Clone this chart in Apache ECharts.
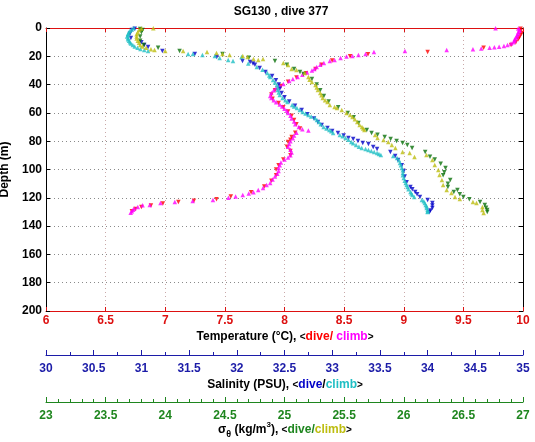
<!DOCTYPE html>
<html>
<head>
<meta charset="utf-8">
<script src="https://cdn.jsdelivr.net/npm/echarts@6/dist/echarts.min.js"></script>
<style>
html,body{margin:0;padding:0;background:#fff;}
#chart{width:535px;height:442px;}
</style>
</head>
<body>
<div id="chart"></div>
<script>
// ---- Data: [depth (m), value] pairs ----
const tempDive = [[0.5,9.98],[2,9.98],[3.5,9.99],[5,9.98],[6.5,9.97],[8,9.96],[10,9.94],[12,9.90],[14,9.67],[17,9.20],[18.5,8.70],[20,8.55],[23,8.40],[26,8.31],[29,8.26],[32,8.18],[35,8.10],[38,8.03],[41,7.97],[44,7.92],[47,7.89],[50,7.90],[53,7.95],[56,7.99],[59,8.03],[62,8.06],[65,8.08],[68,8.10],[71,8.13],[74,8.09],[77,8.06],[79,8.05],[80.6,8.03],[84,8.02],[87,8.05],[90,8.05],[93,7.99],[97,7.95],[100,7.93],[104,7.93],[108,7.89],[112,7.83],[116,7.72],[119,7.55],[121,7.43],[122,7.24],[123,7.11],[124,6.98],[125.5,6.88],[126.5,6.80],[128,6.75],[129.5,6.72]];
const tempClimb = [[0.2,9.77],[0.3,9.96],[1,9.97],[2,9.97],[3,9.96],[4,9.96],[5,9.95],[6,9.95],[7,9.94],[8,9.93],[9,9.93],[10,9.92],[11,9.90],[12,9.87],[12.7,9.84],[13.2,9.80],[13.6,9.76],[14,9.72],[14.5,9.65],[15,9.58],[15.5,9.36],[16.3,9.01],[17,8.75],[18.4,8.68],[19,8.62],[19.8,8.57],[20.2,8.52],[21.2,8.47],[22.6,8.42],[23.3,8.38],[24.7,8.33],[26,8.30],[27.6,8.27],[29,8.25],[30,8.23],[31.5,8.19],[33,8.15],[34.6,8.11],[36,8.07],[37.5,8.04],[39.6,7.99],[41,7.96],[42.5,7.93],[44,7.91],[46,7.89],[48,7.88],[49.5,7.89],[51,7.91],[52.5,7.93],[54,7.96],[55.5,7.98],[57,8.00],[58.5,8.02],[60,8.03],[62,8.05],[64,8.06],[66,8.08],[68,8.09],[70,8.12],[71.5,8.15],[72.5,8.20],[74,8.10],[76,8.08],[78,8.07],[80,8.05],[82,8.04],[84,8.03],[86,8.05],[88,8.06],[90,8.05],[91.5,8.03],[93,8.00],[95,7.97],[97,7.96],[99,7.95],[101,7.95],[103,7.94],[105,7.92],[107,7.90],[109.5,7.88],[111,7.85],[113,7.82],[114.5,7.78],[116,7.74],[117,7.70],[118,7.65],[119,7.59],[120,7.53],[121.6,7.40],[122.3,7.23],[123,7.08],[123.7,6.96],[125,6.87],[125.2,6.81],[126.5,6.77],[127.5,6.74],[128.5,6.73],[129.5,6.72],[130.5,6.71]];

const salDive = [[0.5,30.93],[1.5,30.90],[4,30.88],[7,30.89],[10,31.00],[12,31.03],[13.4,31.07],[16.3,31.22],[18.4,31.56],[20.5,31.79],[23.3,32.06],[24,32.14],[25,32.17],[26,32.19],[28.3,32.24],[31.1,32.30],[34,32.37],[37,32.41],[40,32.44],[43,32.45],[46,32.47],[49,32.50],[52,32.55],[55,32.61],[58,32.68],[61,32.74],[64,32.81],[66.5,32.85],[68.6,32.89],[70.7,32.95],[72.8,33.00],[74.2,33.06],[76,33.12],[77.7,33.17],[78.4,33.22],[79.9,33.27],[81.3,33.32],[82,33.38],[84.1,33.43],[85.5,33.47],[87.6,33.61],[90.5,33.66],[93.3,33.69],[97,33.73],[101,33.75],[105,33.76],[109,33.78],[112.4,33.82],[114,33.84],[115.9,33.87],[117.5,33.89],[119.4,33.92],[121.6,34.00],[123.7,34.05],[125.5,34.05],[127.2,34.05],[129,34.03],[130,34.02]];
const salClimb = [[0,30.92],[1,30.90],[2,30.88],[3,30.87],[4,30.86],[5,30.86],[6,30.85],[7,30.86],[8,30.86],[9,30.87],[10,30.88],[11,30.89],[12,30.91],[13,30.93],[14,30.96],[14.8,30.99],[15.5,31.03],[16.3,31.07],[18.4,31.49],[18.4,31.54],[19,31.64],[19.8,31.77],[21.2,31.82],[22.6,31.91],[23.3,31.96],[20.5,32.05],[25,32.12],[27.6,32.21],[29.5,32.27],[31.8,32.32],[33.5,32.34],[34.6,32.35],[36.7,32.38],[38.5,32.40],[40.3,32.42],[42,32.43],[43.8,32.43],[45.5,32.44],[47.3,32.45],[49.5,32.48],[51,32.51],[52.3,32.53],[54.4,32.58],[55.5,32.60],[56.5,32.63],[58,32.66],[59.4,32.69],[60.5,32.72],[61.5,32.75],[62.5,32.78],[63.6,32.82],[65,32.84],[66.4,32.86],[68,32.88],[70,32.91],[71,32.94],[72,32.97],[73,32.99],[74.2,33.01],[75.6,33.08],[76.5,33.11],[77.7,33.14],[79,33.17],[80.6,33.20],[81.5,33.22],[82.7,33.25],[84,33.28],[84.8,33.31],[85.6,33.35],[86.2,33.38],[87,33.41],[87.6,33.44],[88.3,33.47],[89,33.49],[89.8,33.51],[90.5,33.64],[91.9,33.68],[93.5,33.70],[95.4,33.71],[97,33.72],[98.9,33.73],[100.5,33.74],[102.5,33.74],[104,33.74],[106,33.75],[108,33.76],[109.5,33.77],[111,33.78],[112.4,33.79],[114,33.80],[115.9,33.82],[117,33.83],[118,33.84],[119.4,33.86],[121.6,33.94],[122.5,33.96],[123.7,33.97],[125,33.98],[126,33.99],[127.2,33.99],[128.5,34.00],[129.5,34.00],[130,34.00]];

const densDive = [[0.7,23.79],[1.4,23.81],[3,23.80],[6,23.79],[9,23.79],[12,23.82],[14,23.94],[16.3,24.12],[18.4,24.48],[21,24.70],[23.3,24.92],[26,25.02],[29,25.08],[31.1,25.13],[32.5,25.16],[36,25.23],[40,25.27],[44,25.30],[48,25.33],[52,25.37],[56,25.45],[60,25.53],[63,25.58],[67.1,25.62],[72,25.69],[74.2,25.73],[75.5,25.78],[77,25.84],[78.5,25.89],[79.9,25.94],[81.3,25.99],[82.7,26.03],[84.8,26.07],[87.6,26.18],[91,26.22],[93,26.26],[96,26.31],[98.9,26.35],[102,26.34],[104,26.33],[107.4,26.39],[110,26.37],[112.4,26.37],[114.5,26.45],[115.9,26.42],[117.5,26.47],[119.4,26.50],[121,26.55],[123,26.64],[125,26.68],[127,26.69],[128.6,26.70],[130,26.70]];
const densClimb = [[0.2,23.90],[0.3,23.80],[1.5,23.78],[3,23.77],[4.5,23.76],[6,23.76],[7.5,23.76],[9,23.77],[10.5,23.78],[12,23.79],[13,23.81],[14,23.84],[15,23.88],[15.5,23.91],[16.3,24.00],[16.3,24.15],[17,24.35],[17.7,24.43],[18.4,24.48],[19,24.54],[19.8,24.65],[20.5,24.69],[21.9,24.74],[22.6,24.78],[21.9,24.82],[24.7,24.99],[26.1,25.03],[29,25.06],[29.7,25.10],[31.8,25.17],[34.6,25.20],[36.5,25.21],[38.2,25.23],[40.3,25.26],[42,25.27],[43.8,25.28],[45.9,25.30],[47.5,25.31],[49.5,25.32],[51,25.34],[52.3,25.36],[54.4,25.38],[55.8,25.42],[56.5,25.44],[58,25.48],[60,25.52],[61.5,25.55],[62.9,25.57],[64.5,25.59],[66.4,25.61],[68.6,25.63],[70,25.65],[71,25.66],[72,25.67],[75.6,25.76],[77.7,25.78],[79.2,25.83],[80.6,25.87],[82.7,25.90],[84.8,25.93],[87.6,25.99],[88.3,26.05],[91.2,26.09],[89.8,26.19],[93.3,26.24],[96.8,26.26],[100.4,26.29],[103.9,26.30],[107.4,26.32],[111,26.33],[114.5,26.36],[116.6,26.40],[119.4,26.43],[120.8,26.47],[123,26.58],[123.7,26.61],[126.5,26.66],[128.6,26.66],[130.7,26.67]];

// Axis ranges / tick steps
const depthRange = [0, 200], depthStep = 20;
const tempRange = [6, 10], salRange = [30, 35], densRange = [23, 27], xStep = 0.5;

const FONT = '"Liberation Sans", Arial, Helvetica, sans-serif';
const C = {
  tAxis: '#dd1111', red: '#ff0000', mag: '#ff00ff',
  sAxis: '#1c1ca8', blue: '#0000c8', cyan: '#1fbfc4',
  dAxis: '#1f861f', green: '#0a700a', olive: '#bdbd10'
};

const chart = echarts.init(document.getElementById('chart'), null, {renderer: 'canvas'});
const toXY = arr => arr.map(p => [p[1], p[0]]);

function sc(name, data, xi, color, down) {
  return {
    name, type: 'scatter', xAxisIndex: xi, yAxisIndex: 0,
    data: toXY(data), symbol: 'triangle', symbolSize: 4.5,
    symbolRotate: down ? 180 : 0,
    itemStyle: {color}, emphasis: {disabled: true}, silent: true, animation: false
  };
}
const lab = (color) => ({color, fontWeight: 'bold', fontSize: 12, fontFamily: FONT});

chart.setOption({
  animation: false,
  backgroundColor: '#fff',
  grid: {left: 46, right: 12, top: 28, bottom: 131, containLabel: false, outerBoundsMode: 'none'},
  xAxis: [
    {type: 'value', position: 'bottom', min: tempRange[0], max: tempRange[1], interval: xStep,
     axisLine: {show: true, onZero: false, lineStyle: {color: C.tAxis, width: 1}},
     axisTick: {show: true, inside: true, length: 4, lineStyle: {color: C.tAxis}},
     axisLabel: Object.assign({margin: 4}, lab(C.tAxis)),
     splitLine: {show: true, lineStyle: {color: '#c9a9a9', type: [1, 3], width: 1}}},
    {type: 'value', position: 'top', min: tempRange[0], max: tempRange[1], interval: xStep,
     axisLine: {show: true, onZero: false, lineStyle: {color: C.tAxis, width: 1}},
     axisTick: {show: true, inside: true, length: 4, lineStyle: {color: C.tAxis}},
     axisLabel: {show: false}, splitLine: {show: false}},
    {type: 'value', position: 'bottom', offset: 44, min: salRange[0], max: salRange[1], interval: xStep,
     axisLine: {show: true, onZero: false, lineStyle: {color: C.sAxis, width: 1}},
     axisTick: {show: true, inside: true, length: 5, lineStyle: {color: C.sAxis}},
     minorTick: {show: true, splitNumber: 2, length: 3, lineStyle: {color: C.sAxis}},
     axisLabel: Object.assign({margin: 8}, lab(C.sAxis)),
     splitLine: {show: false}},
    {type: 'value', position: 'bottom', offset: 91, min: densRange[0], max: densRange[1], interval: xStep,
     axisLine: {show: true, onZero: false, lineStyle: {color: C.dAxis, width: 1}},
     axisTick: {show: true, inside: true, length: 5, lineStyle: {color: C.dAxis}},
     minorTick: {show: true, splitNumber: 5, length: 3, lineStyle: {color: C.dAxis}},
     axisLabel: Object.assign({margin: 8}, lab(C.dAxis)),
     splitLine: {show: false}}
  ],
  yAxis: [
    {type: 'value', position: 'left', inverse: true, min: depthRange[0], max: depthRange[1], interval: depthStep,
     axisLine: {show: true, onZero: false, lineStyle: {color: '#000', width: 1}},
     axisTick: {show: true, inside: true, length: 4, lineStyle: {color: '#000'}},
     axisLabel: Object.assign({margin: 4}, lab('#000')),
     splitLine: {show: true, lineStyle: {color: '#8a8a8a', type: [1, 3], width: 1}},
     name: 'Depth (m)', nameLocation: 'middle', nameGap: 31,
     nameTextStyle: {color: '#000', fontWeight: 'bold', fontSize: 12, fontFamily: FONT}},
    {type: 'value', position: 'right', inverse: true, min: depthRange[0], max: depthRange[1], interval: depthStep,
     axisLine: {show: true, onZero: false, lineStyle: {color: '#000', width: 1}},
     axisTick: {show: true, inside: true, length: 4, lineStyle: {color: '#000'}},
     axisLabel: {show: false}, splitLine: {show: false}}
  ],
  series: [
    sc('Temperature dive', tempDive, 0, C.red, true),
    sc('Temperature climb', tempClimb, 0, C.mag, false),
    sc('Salinity dive', salDive, 2, C.blue, true),
    sc('Salinity climb', salClimb, 2, C.cyan, false),
    sc('Density dive', densDive, 3, C.green, true),
    sc('Density climb', densClimb, 3, C.olive, false)
  ],
  graphic: [
    {type: 'text', x: 281, y: 12, silent: true,
     style: {text: 'SG130 , dive 377', fill: '#000', font: 'bold 12px ' + FONT, align: 'center', verticalAlign: 'middle'}},
    {type: 'text', x: 285, y: 337, silent: true,
     style: {text: '{k|Temperature (°C), }{s|<}{r|dive/ }{m|climb}{s|>}', align: 'center', verticalAlign: 'middle',
       rich: {k: {fill: '#000', font: 'bold 12px ' + FONT}, s: {fill: '#000', font: 'bold 10px ' + FONT},
              r: {fill: C.red, font: 'bold 12px ' + FONT}, m: {fill: C.mag, font: 'bold 12px ' + FONT}}}},
    {type: 'text', x: 285, y: 385, silent: true,
     style: {text: '{k|Salinity (PSU), }{s|<}{b|dive}{k|/}{c|climb}{s|>}', align: 'center', verticalAlign: 'middle',
       rich: {k: {fill: '#000', font: 'bold 12px ' + FONT}, s: {fill: '#000', font: 'bold 10px ' + FONT},
              b: {fill: C.blue, font: 'bold 12px ' + FONT}, c: {fill: C.cyan, font: 'bold 12px ' + FONT}}}},
    {type: 'text', x: 285, y: 430, silent: true,
     style: {text: '{k|σ}{sub|θ}{k| (kg/m}{sup|3}{k|), }{s|<}{g|dive/}{o|climb}{s|>}', align: 'center', verticalAlign: 'middle',
       rich: {k: {fill: '#000', font: 'bold 12px ' + FONT, lineHeight: 18, verticalAlign: 'middle'},
              s: {fill: '#000', font: 'bold 10px ' + FONT, lineHeight: 18, verticalAlign: 'middle'},
              sub: {fill: '#000', font: 'bold 9px ' + FONT, lineHeight: 18, verticalAlign: 'bottom'},
              sup: {fill: '#000', font: 'bold 8px ' + FONT, lineHeight: 18, verticalAlign: 'top'},
              g: {fill: C.dAxis, font: 'bold 12px ' + FONT, lineHeight: 18, verticalAlign: 'middle'},
              o: {fill: C.olive, font: 'bold 12px ' + FONT, lineHeight: 18, verticalAlign: 'middle'}}}}
  ]
});
</script>
</body>
</html>
